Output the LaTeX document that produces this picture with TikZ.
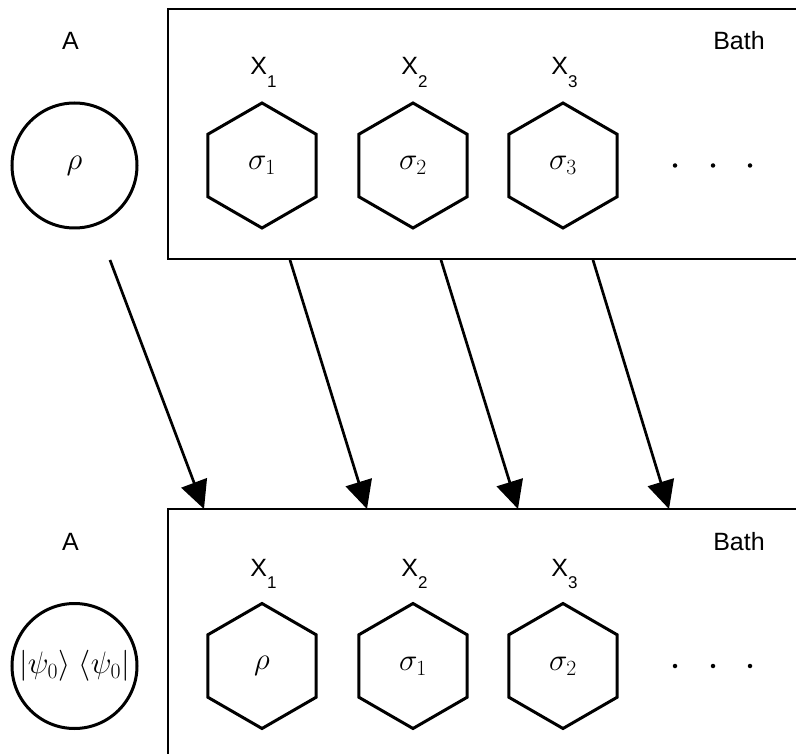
\RequirePackage{fix-cm}
\documentclass[tikz,border=0pt]{standalone}
\usepackage{fontspec}
\newfontfamily\arialf{Liberation Sans}
\usetikzlibrary{shapes.geometric,arrows.meta}
\begin{document}
\begin{tikzpicture}[x=1pt,y=-1pt,
  sans/.style={font=\arialf\fontsize{25}{29}\selectfont, inner sep=0},
  bathbox/.style={draw, line width=2pt, rectangle, minimum width=640pt, minimum height=250pt, inner sep=0, outer sep=0, anchor=north west},
  stateA/.style={circle, draw, line width=3pt, minimum size=125pt, inner sep=0, outer sep=0, font=\fontsize{31}{35}\selectfont},
  hexa/.style={regular polygon, regular polygon sides=6, regular polygon rotate=30, draw, line width=3pt, minimum size=125pt, inner sep=0, outer sep=0, font=\fontsize{31}{35}\selectfont},
  arr/.style={line width=2.7pt, -{Triangle[length=28pt,width=27pt]}},
  dotn/.style={circle, fill, inner sep=0, minimum size=4.5pt}]
\useasboundingbox (0,0) rectangle (796,754);
\clip (0,0) rectangle (796,754);
% top row
\node[bathbox] (bath1) at (168,9) {};
\node[sans, anchor=base] (a1) at (70.5,50) {A};
\node[sans, anchor=base] (b1) at (739,50) {Bath};
\node[stateA] (c1) at (74.5,165.5) {$\rho$};
\node[hexa] (h11) at (262,165.5) {$\sigma_1$};
\node[hexa] (h12) at (413,165.5) {$\sigma_2$};
\node[hexa] (h13) at (563,165.5) {$\sigma_3$};
\node[sans, anchor=base] (x11) at (263.5,75) {X\raisebox{-12.5pt}{\fontsize{17}{17}\selectfont 1}};
\node[sans, anchor=base] (x12) at (414.5,75) {X\raisebox{-12.5pt}{\fontsize{17}{17}\selectfont 2}};
\node[sans, anchor=base] (x13) at (564.5,75) {X\raisebox{-12.5pt}{\fontsize{17}{17}\selectfont 3}};
\node[dotn] (d11) at (675,165.5) {};
\node[dotn] (d12) at (713,165.5) {};
\node[dotn] (d13) at (750,165.5) {};
% bottom row
\node[bathbox] (bath2) at (168,509) {};
\node[sans, anchor=base] (a2) at (70.5,550) {A};
\node[sans, anchor=base] (b2) at (739,550) {Bath};
\node[stateA] (c2) at (74.5,666) {$|\psi_0\rangle\;\langle\psi_0|$};
\node[hexa] (h21) at (262,666) {$\rho$};
\node[hexa] (h22) at (413,666) {$\sigma_1$};
\node[hexa] (h23) at (563,666) {$\sigma_2$};
\node[sans, anchor=base] (x21) at (263.5,576) {X\raisebox{-12.5pt}{\fontsize{17}{17}\selectfont 1}};
\node[sans, anchor=base] (x22) at (414.5,576) {X\raisebox{-12.5pt}{\fontsize{17}{17}\selectfont 2}};
\node[sans, anchor=base] (x23) at (564.5,576) {X\raisebox{-12.5pt}{\fontsize{17}{17}\selectfont 3}};
\node[dotn] (d21) at (675,666) {};
\node[dotn] (d22) at (713,666) {};
\node[dotn] (d23) at (750,666) {};
% arrows
\coordinate (s1) at (110,260);
\coordinate (s2) at (290,260);
\coordinate (s3) at (441,260);
\coordinate (s4) at (593,260);
\coordinate (e1) at (204,509);
\coordinate (e2) at (367,509);
\coordinate (e3) at (518,509);
\coordinate (e4) at (669,509);
\draw[arr] (s1) -- (e1);
\draw[arr] (s2) -- (e2);
\draw[arr] (s3) -- (e3);
\draw[arr] (s4) -- (e4);
\end{tikzpicture}
\end{document}
